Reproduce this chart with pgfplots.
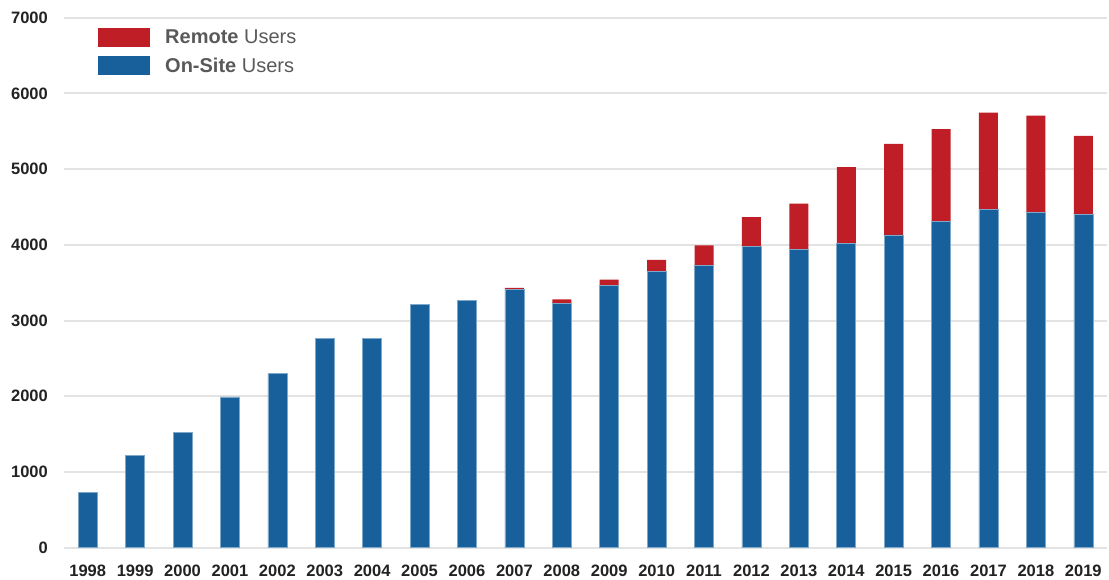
\documentclass[border=0pt]{standalone}
\usepackage{fontspec}
\setmainfont{Liberation Sans}
\usepackage{pgfplots}
\pgfplotsset{compat=1.18}
\definecolor{myblue}{HTML}{17609C}
\definecolor{myred}{HTML}{C01E26}
\definecolor{gridgray}{HTML}{E3E3E3}
\definecolor{tickcol}{HTML}{222222}
\definecolor{legcol}{HTML}{595959}
\begin{document}
\begin{tikzpicture}
\begin{axis}[
  at={(64pt,32.3pt)}, anchor=south west,
  scale only axis, width=1043pt, height=530pt,
  ybar stacked, bar width=19pt,
  xmin=-0.5, xmax=21.5, ymin=0, ymax=7000,
  xtick={0,...,21},
  xticklabels={1998,1999,2000,2001,2002,2003,2004,2005,2006,2007,2008,2009,2010,2011,2012,2013,2014,2015,2016,2017,2018,2019},
  ytick={0,1000,...,7000},
  axis line style={draw=none},
  major tick length=0pt,
  ymajorgrids, grid style={gridgray, line width=2pt},
  /pgf/number format/assume math mode=true,
  scaled y ticks=false,
  yticklabel style={/pgf/number format/1000 sep={}, inner sep=0pt, xshift=-16pt},
  xticklabel style={inner sep=0pt, yshift=-17.5pt},
  tick label style={font=\bfseries\fontsize{16.5}{16.5}\selectfont, text=tickcol},
  legend style={at={(0.0326,0.9806)}, anchor=north west, draw=none, fill=none,
    inner sep=0pt, font=\fontsize{20}{20}\selectfont, text=legcol,
    row sep=9pt, nodes={inner sep=0pt},
    /tikz/every odd column/.append style={column sep=15pt}},
  legend cell align=left,
  legend image code/.code={\fill[#1] (0pt,-9.5pt) rectangle (52pt,9.5pt);},
]
\addlegendimage{fill=myred, draw=none}
\addlegendentry{\textbf{Remote} Users}
\addlegendimage{fill=myblue, draw=none}
\addlegendentry{\textbf{On-Site} Users}
\addplot[fill=myblue, draw=myblue!55!white, line width=0.6pt, forget plot] coordinates {
(0,727) (1,1215) (2,1524) (3,1991) (4,2299) (5,2766) (6,2766) (7,3215) (8,3268) (9,3410) (10,3228)
(11,3461) (12,3646) (13,3730) (14,3976) (15,3937) (16,4016) (17,4131) (18,4312) (19,4470) (20,4431) (21,4404)};
\addplot[fill=myred, draw=none, forget plot] coordinates {
(0,0) (1,0) (2,0) (3,0) (4,0) (5,0) (6,0) (7,0) (8,0) (9,20) (10,53)
(11,79) (12,154) (13,264) (14,389) (15,607) (16,1009) (17,1202) (18,1215) (19,1276) (20,1276) (21,1035)};
\end{axis}
\pgfresetboundingbox
\useasboundingbox (0,0) rectangle (1109pt,580pt);
\end{tikzpicture}
\end{document}
